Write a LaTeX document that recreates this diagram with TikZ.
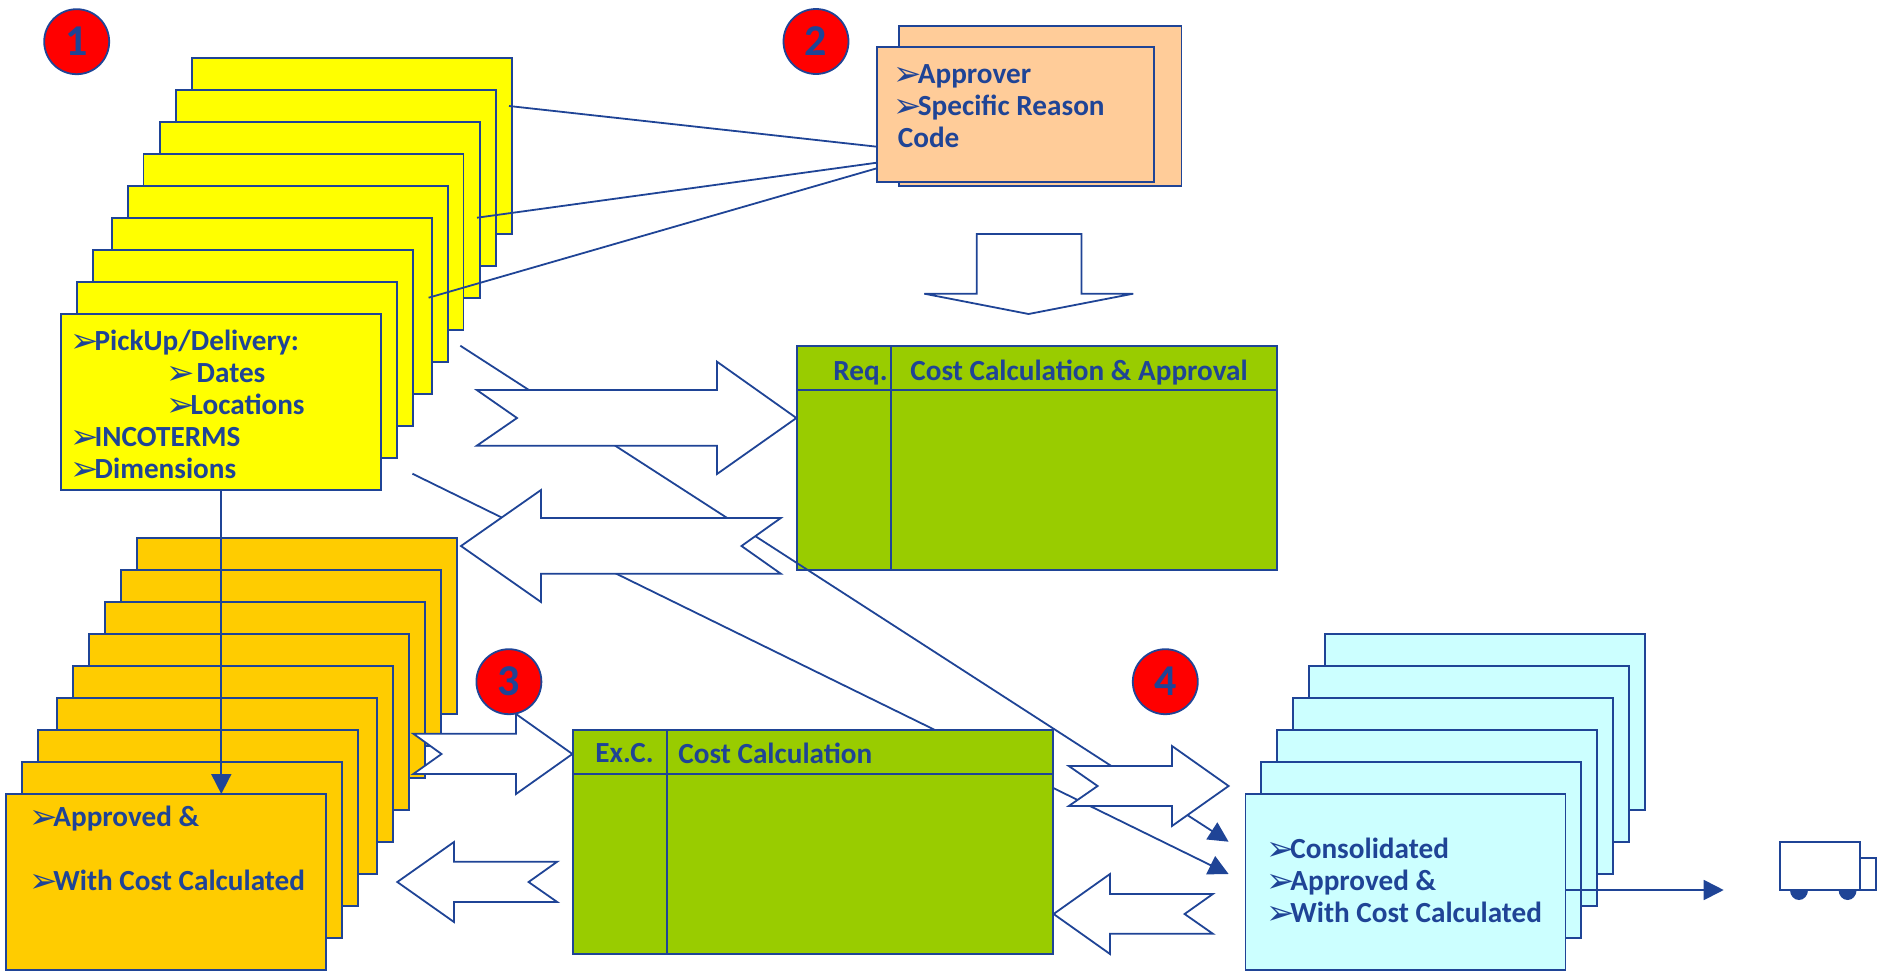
\documentclass[tikz,border=0pt]{standalone}
\usepackage{fontspec}
\setmainfont{Carlito}
\newfontfamily\bulfont{DejaVu Sans}
\usetikzlibrary{arrows.meta}
\definecolor{lineblue}{HTML}{1F4496}
\definecolor{cardyellow}{HTML}{FFFF00}
\definecolor{cardorange}{HTML}{FFCC00}
\definecolor{cardpeach}{HTML}{FFCC99}
\definecolor{cardgreen}{HTML}{99CC00}
\definecolor{cardcyan}{HTML}{CCFFFF}
\newcommand{\bul}{\makebox[10pt][l]{\smash{\hspace*{-2pt}\raisebox{-1pt}{\bulfont\fontsize{17}{17}\selectfont\mdseries ➢}}}}
\tikzset{
	card/.style={draw=lineblue, line width=0.9pt, anchor=north west, outer sep=0pt, inner sep=0pt, minimum width=160pt, minimum height=88pt},
	yellowcard/.style={card, fill=cardyellow},
	orangecard/.style={card, fill=cardorange},
	cyancard/.style={card, fill=cardcyan},
	greenbox/.style={card, fill=cardgreen, minimum width=240pt, minimum height=112pt},
	badge/.style={circle, draw=lineblue, fill=red, line width=0.9pt, minimum size=32.5pt, inner sep=0pt, text=lineblue, font=\bfseries\fontsize{22}{22}\selectfont},
	cardtext/.style={anchor=north west, inner sep=0pt, align=left, text=lineblue, font=\bfseries\fontsize{14.6}{16}\selectfont},
	headtext/.style={anchor=west, inner sep=0pt, text=lineblue, font=\bfseries\fontsize{14.6}{16}\selectfont},
	thinline/.style={draw=lineblue, line width=0.9pt},
	tipline/.style={thinline, -{Triangle[length=10pt,width=10pt]}},
	blockarrow/.style={draw=lineblue, line width=0.9pt, fill=white, line join=miter},
}
\begin{document}
\begin{tikzpicture}[x=0.5pt,y=-0.5pt]
	\useasboundingbox (0,0) rectangle (1892,980);
	% first stack
	\foreach \n/\xx/\yy in {9/191.8/58, 8/175.6/90, 7/159.7/122.3, 6/143.5/154.3, 5/127.7/186, 4/111.9/218.3, 3/92.9/250, 2/77.1/282.3, 1/61.3/314}
		\node[yellowcard] (y\n) at (\xx,\yy) {};
	\node[cardtext] (ytext) at (74.3,330) {\bul PickUp/Delivery:\\
		\hspace*{48pt}\bul\hspace{3pt}Dates\\
		\hspace*{48pt}\bul Locations\\
		\bul INCOTERMS\\
		\bul Dimensions};
	% approver box
	\node[card, fill=cardpeach, minimum width=141.4pt, minimum height=80pt] (pback) at (898.6,25.7) {};
	\node[card, fill=cardpeach, minimum width=138.7pt, minimum height=67.5pt] (pfront) at (876.8,47) {};
	\node[cardtext] (ptext) at (897.5,64) {\bul Approver\\ \bul Specific Reason\\ Code};
	\coordinate (ya) at (509,106);
	\coordinate (yb) at (477,217.7);
	\coordinate (yc) at (428.6,297.7);
	\draw[thinline] (ya) -- (pfront.west |- 0,146.7);
	\draw[thinline] (yb) -- (pfront.west |- 0,162.7);
	\draw[thinline] (yc) -- (pfront.west |- 0,168.3);
	% second stack
	\foreach \n/\xx/\yy in {9/137.2/538, 8/121.2/570, 7/105.2/602, 6/88.8/634, 5/72.8/666, 4/56.8/698, 3/38.3/730, 2/22.3/762, 1/6.3/794}
		\node[orangecard] (o\n) at (\xx,\yy) {};
	\node[cardtext] (otext) at (33,806) {\bul Approved \&\\[16pt] \bul With Cost Calculated};
	\draw[tipline] (y1.south) -- (y1.south |- o1.north);
	% last stack
	\foreach \n/\xx/\yy in {6/1324.8/634, 5/1309/666, 4/1292.7/698, 3/1277/730, 2/1261.2/762, 1/1245.4/794}
		\node[cyancard] (c\n) at (\xx,\yy) {};
	\node[cardtext] (ctext) at (1270,838) {\bul Consolidated\\ \bul Approved \&\\ \bul With Cost Calculated};
	% tables and long lines
	\node[greenbox] (g1) at (797.3,345.7) {};
	\draw[thinline] (g1.west |- 0,390) -- (g1.east |- 0,390);
	\draw[thinline] (891,0 |- g1.north) -- (891,0 |- g1.south);
	\node[headtext] (g1req) at (833,373) {Req.};
	\node[headtext] (g1head) at (910,373) {Cost Calculation \& Approval};
	\coordinate (la) at (460.3,345.7);
	\coordinate (lb) at (412.4,473.7);
	\coordinate (ta) at (1228.6,841.7);
	\coordinate (tb) at (1228.6,874);
	\draw[tipline] (la) -- (ta);
	\draw[tipline] (lb) -- (tb);
	\node[greenbox] (g2) at (573.2,730) {};
	\draw[thinline] (g2.west |- 0,774) -- (g2.east |- 0,774);
	\draw[thinline] (667.3,0 |- g2.north) -- (667.3,0 |- g2.south);
	\node[headtext] (g2exc) at (595,753) {Ex.C.};
	\node[headtext] (g2head) at (678,753) {Cost Calculation};
	% block arrows
	\draw[blockarrow] (976.8,234) -- (1081.4,234) -- (1081.4,293.7) -- (1133.2,293.7) -- (1028.6,314) -- (924.3,293.7) -- (976.8,293.7) -- cycle;
	\draw[blockarrow] (476.8,390) -- (717,390) -- (717,361.7) -- (796.4,418) -- (717,474) -- (717,445.7) -- (476.8,445.7) -- (517,418) -- cycle;
	\draw[blockarrow] (461,546) -- (541,490) -- (541,518) -- (780.8,518) -- (741.5,546) -- (780.8,573.7) -- (541,573.7) -- (541,602) -- cycle;
	\draw[blockarrow] (413.3,733.7) -- (516,733.7) -- (516,714) -- (572.4,754) -- (516,794) -- (516,774) -- (413.3,774) -- (441.5,754) -- cycle;
	\draw[blockarrow] (397.3,882) -- (454,842) -- (454,861.7) -- (557.2,861.7) -- (528.6,882) -- (557.2,902) -- (454,902) -- (454,922) -- cycle;
	\draw[blockarrow] (1068.8,766) -- (1172,766) -- (1172,746) -- (1228.6,786) -- (1172,826) -- (1172,806) -- (1068.8,806) -- (1097.6,786) -- cycle;
	\draw[blockarrow] (1053.6,914) -- (1110,874) -- (1110,894) -- (1212.8,894) -- (1184.6,914) -- (1212.8,933.7) -- (1110,933.7) -- (1110,954) -- cycle;
	% numbers
	\node[badge] (n1) at (76.7,41.7) {1};
	\node[badge] (n2) at (816,41.5) {2};
	\node[badge] (n3) at (508.9,681.7) {3};
	\node[badge] (n4) at (1165.3,681.7) {4};
	% truck
	\coordinate (truckin) at (1723.7,890);
	\draw[tipline] (c1.east |- truckin) -- (truckin);
	\fill[lineblue] (1790,890) arc[start angle=180, end angle=0, x radius=9, y radius=10] -- cycle;
	\fill[lineblue] (1838.6,890) arc[start angle=180, end angle=0, x radius=9, y radius=10] -- cycle;
	\node[card, fill=white, minimum width=40pt, minimum height=24.2pt] (truck) at (1780,841.7) {};
	\node[card, fill=white, minimum width=8pt, minimum height=16.2pt] (cab) at (1860,857.7) {};
\end{tikzpicture}
\end{document}
